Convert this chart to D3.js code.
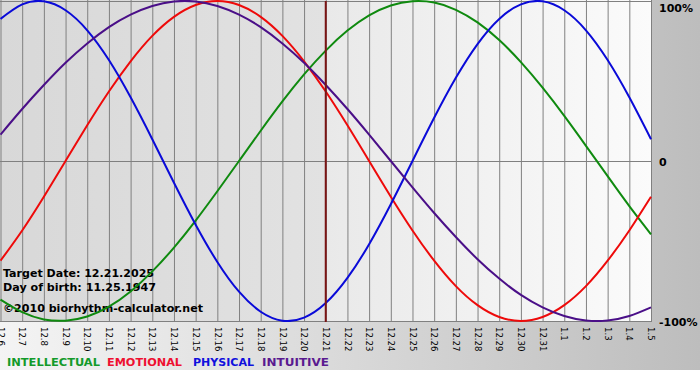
<!DOCTYPE html>
<html><head><meta charset="utf-8">
<script src="https://cdn.jsdelivr.net/npm/d3@7"></script>
<style>
html,body{margin:0;padding:0;background:#fff;}
svg{display:block;}
</style></head>
<body>
<svg id="chart" width="700" height="380"></svg>
<script>
const dates = ["12.6","12.7","12.8","12.9","12.10","12.11","12.12","12.13","12.14","12.15","12.16","12.17","12.18","12.19","12.20","12.21","12.22","12.23","12.24","12.25","12.26","12.27","12.28","12.29","12.30","12.31","1.1","1.2","1.3","1.4","1.5"];
const intellectual = [-0.866,-0.945,-0.990,-0.998,-0.972,-0.910,-0.815,-0.690,-0.541,-0.372,-0.189,0,0.189,0.372,0.541,0.690,0.815,0.910,0.972,0.998,0.990,0.945,0.866,0.756,0.618,0.458,0.282,0.095,-0.095,-0.282,-0.458];
const emotional = [-0.623,-0.434,-0.223,0,0.223,0.434,0.623,0.782,0.901,0.975,1.0,0.975,0.901,0.782,0.623,0.434,0.223,0,-0.223,-0.434,-0.623,-0.782,-0.901,-0.975,-1.0,-0.975,-0.901,-0.782,-0.623,-0.434,-0.223];
const physical = [0.888,0.979,0.998,0.942,0.817,0.631,0.398,0.136,-0.136,-0.398,-0.631,-0.817,-0.942,-0.998,-0.979,-0.888,-0.731,-0.520,-0.270,0,0.270,0.520,0.731,0.888,0.979,0.998,0.942,0.817,0.631,0.398,0.136];
const intuitive = [0.165,0.325,0.475,0.614,0.735,0.837,0.915,0.969,0.997,0.997,0.969,0.915,0.837,0.735,0.614,0.475,0.325,0.165,0,-0.165,-0.325,-0.475,-0.614,-0.735,-0.837,-0.915,-0.969,-0.997,-0.997,-0.969,-0.915];
const seriesNames = ["INTELLECTUAL","EMOTIONAL","PHYSICAL","INTUITIVE"];
const seriesColors = ["#0f8a0f","#ee0a0a","#0a0ad8","#4a0f88"];
const legendColors = ["#139a2a","#ee1030","#1010dd","#5a1a90"];
const targetDate = "12.21";
const yTickValues = [1, 0, -1];
const yTickLabels = ["100%","0","-100%"];
const infoLines = ["Target Date: 12.21.2025","Day of birth: 11.25.1947","\u00a92010 biorhythm-calculator.net"];

const svg = d3.select("#chart");
const W = 651, H = 321, TOP = 1;
const x = d3.scalePoint().domain(dates).range([0.5, W]);
const y = d3.scaleLinear().domain([-1, 1]).range([H, TOP]);

const defs = svg.append("defs");
function grad(id, c0, c1){
  const g = defs.append("linearGradient").attr("id", id).attr("x1","0").attr("x2","1").attr("y1","0").attr("y2","0");
  g.append("stop").attr("offset","0").attr("stop-color", c0);
  g.append("stop").attr("offset","1").attr("stop-color", c1);
}
grad("bg", "#f4f4f4", "#bdbdbd");
grad("past", "#d8d8d8", "#e2e2e2");
grad("future", "#e9e9e9", "#fbfbfb");
defs.append("clipPath").attr("id","plotclip").append("rect").attr("x",0).attr("y",0).attr("width",W+1).attr("height",H+1);

svg.append("rect").attr("x",0).attr("y",0).attr("width",700).attr("height",370).attr("fill","url(#bg)");
const xt = x(targetDate);
svg.append("rect").attr("x",0).attr("y",0).attr("width",xt).attr("height",H).attr("fill","url(#past)");
svg.append("rect").attr("x",xt).attr("y",0).attr("width",W - xt).attr("height",H).attr("fill","url(#future)");

// vertical grid lines via axis
const grid = svg.append("g").attr("transform",`translate(0,${H+1})`)
  .call(d3.axisBottom(x).tickSize(-(H+1)).tickSizeOuter(0).tickFormat(""));
grid.select(".domain").remove();
grid.selectAll("line").attr("stroke","#808080").attr("stroke-width",1);

// horizontal lines
svg.append("g").selectAll("line").data(yTickValues).join("line")
  .attr("x1",0).attr("x2",W+1)
  .attr("y1",d=>Math.round(y(d))+0.5).attr("y2",d=>Math.round(y(d))+0.5)
  .attr("stroke","#808080");

// tick labels
const lab = svg.append("g").attr("transform",`translate(0,${H})`)
  .call(d3.axisBottom(x).tickSize(0).tickSizeOuter(0));
lab.select(".domain").remove();
lab.selectAll("text")
  .attr("transform","rotate(90)")
  .attr("text-anchor","start")
  .attr("x",6).attr("y",0).attr("dy","0.35em")
  .attr("fill","#000")
  .style("font-family","'DejaVu Sans Condensed','DejaVu Sans',sans-serif")
  .style("font-size","9.5px");

// right labels
svg.append("g").selectAll("text").data(yTickValues).join("text")
  .attr("x",659)
  .attr("y",(d,i)=> i===0 ? y(d)+11 : y(d)+5)
  .text((d,i)=>yTickLabels[i])
  .attr("fill","#000")
  .style("font-family","'DejaVu Sans',sans-serif").style("font-weight","bold").style("font-size","11px");

// info text
const infoY = [277, 291, 312];
const infoLen = [151, 153, 200];
svg.append("g").selectAll("text").data(infoLines).join("text")
  .attr("x",3).attr("y",(d,i)=>infoY[i])
  .attr("textLength",(d,i)=>infoLen[i]).attr("lengthAdjust","spacingAndGlyphs")
  .text(d=>d).attr("fill","#000")
  .style("font-family","'DejaVu Sans',sans-serif").style("font-weight","bold").style("font-size","11px");

// curves
const data = [intellectual, emotional, physical, intuitive];
const line = d3.line().x((d,i)=>x(dates[i])).y(d=>y(d)).curve(d3.curveNatural);
const curves = svg.append("g").attr("clip-path","url(#plotclip)");
curves.selectAll("path").data(data).join("path")
  .attr("d", line).attr("fill","none")
  .attr("stroke",(d,i)=>seriesColors[i]).attr("stroke-width",2);

// target line
svg.append("line").attr("x1",xt).attr("x2",xt).attr("y1",TOP).attr("y2",H+1)
  .attr("stroke","#7a1414").attr("stroke-width",2);

// legend
const legX = [7, 107, 193, 262];
const legLen = [93, 75, 61, 67];
svg.append("g").selectAll("text").data(seriesNames).join("text")
  .attr("x",(d,i)=>legX[i]).attr("y",366)
  .attr("textLength",(d,i)=>legLen[i]).attr("lengthAdjust","spacingAndGlyphs")
  .text(d=>d).attr("fill",(d,i)=>legendColors[i])
  .style("font-family","'DejaVu Sans',sans-serif").style("font-weight","bold").style("font-size","11px");
</script>
</body></html>
